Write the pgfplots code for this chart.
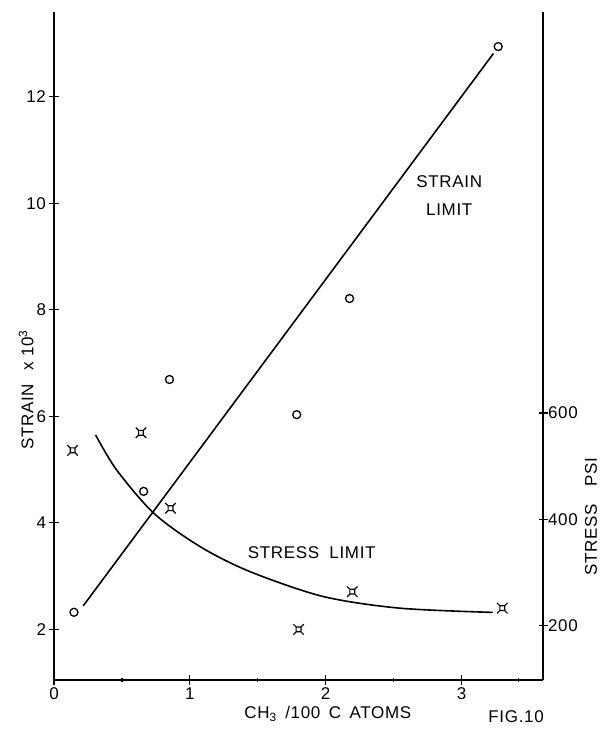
\documentclass[border=0pt]{standalone}
\usepackage{fontspec}
\setmainfont{Liberation Sans}[LetterSpace=4]
\usepackage{pgfplots}
\pgfplotsset{compat=1.18}
\pgfdeclareplotmark{cur}{%
  \pgfpathrectangle{\pgfpoint{-0.6\pgfplotmarksize}{-0.6\pgfplotmarksize}}{\pgfpoint{1.2\pgfplotmarksize}{1.2\pgfplotmarksize}}%
  \pgfpathmoveto{\pgfpoint{0.6\pgfplotmarksize}{0.6\pgfplotmarksize}}\pgfpathlineto{\pgfpoint{1.3\pgfplotmarksize}{1.3\pgfplotmarksize}}%
  \pgfpathmoveto{\pgfpoint{-0.6\pgfplotmarksize}{0.6\pgfplotmarksize}}\pgfpathlineto{\pgfpoint{-1.3\pgfplotmarksize}{1.3\pgfplotmarksize}}%
  \pgfpathmoveto{\pgfpoint{0.6\pgfplotmarksize}{-0.6\pgfplotmarksize}}\pgfpathlineto{\pgfpoint{1.3\pgfplotmarksize}{-1.3\pgfplotmarksize}}%
  \pgfpathmoveto{\pgfpoint{-0.6\pgfplotmarksize}{-0.6\pgfplotmarksize}}\pgfpathlineto{\pgfpoint{-1.3\pgfplotmarksize}{-1.3\pgfplotmarksize}}%
  \pgfusepathqstroke}
\newcommand{\lf}{\fontsize{17}{20}\selectfont}
\pgfplotsset{
  common/.style={
    at={(54pt,50pt)}, anchor=south west, scale only axis,
    width=489pt, height=668pt, xmin=0, xmax=3.6,
    tick align=inside, major tick length=9pt, minor tick length=4pt,
    every tick/.style={black, line width=1.2pt},
    tick label style={font=\lf},
    /pgf/number format/assume math mode=true,
    clip=false,
  }
}
\begin{document}
\begin{tikzpicture}
\useasboundingbox (0,0) rectangle (600pt,730pt);
\begin{axis}[common,
  ymin=1.049, ymax=13.589,
  axis x line=bottom, axis y line=left,
  axis line style={-, line width=1.2pt},
  x axis line style={-}, y axis line style={-},
  xtick={0,1,2,3}, minor xtick={0.5,1.5,2.5,3.42},
  ytick={2,4,6,8,10,12},
  xticklabel style={inner sep=1pt, yshift=-2pt},
]
\addplot[black, line width=1.6pt] coordinates {(0.215,2.44) (3.235,12.81)};
\addplot[only marks, mark=o, mark size=4pt, mark options={line width=1.3pt}] coordinates {
  (0.147,2.32) (0.66,4.59) (0.85,6.69) (1.787,6.03) (2.176,8.21) (3.27,12.94)};
\node[font=\lf] at (axis cs:2.91,10.41) {STRAIN};
\node[font=\lf] at (axis cs:2.91,9.87) {LIMIT};
\node[font=\lf] at (axis cs:1.897,3.44) {STRESS\hspace{0.6em}LIMIT};
\node[font=\lf] at (axis description cs:0.945,-0.0554) {FIG.10};
\node[font=\lf, inner sep=1pt] at (axis description cs:0.560,-0.0509) {CH\textsubscript{3}\hspace{0.5em}/100\hspace{0.5em}C\hspace{0.5em}ATOMS};
\node[font=\lf, rotate=90] at (axis description cs:-0.057,0.434) {STRAIN\hspace{0.8em}x\hspace{0.3em}10\textsuperscript{3}};
\end{axis}
\begin{axis}[common,
  ymin=97.8, ymax=1354.7,
  axis x line=none, axis y line=right,
  axis line style={-, line width=1.2pt},
  y axis line style={-},
  ytick={200,400,600},
  yticklabel style={xshift=-3pt},
]
\addplot[black, line width=1.6pt, smooth] coordinates {
  (0.306,559) (0.461,493) (0.737,411) (1.074,349) (1.44,302) (1.98,255) (2.544,233) (3.23,225)};
\addplot[only marks, mark=cur, mark size=4pt, mark options={line width=1.2pt}] coordinates {
  (0.137,530) (0.64,563) (0.858,421) (1.80,193) (2.196,264) (3.30,233)};
\node[font=\lf, rotate=90] at (axis description cs:1.098,0.2445) {STRESS\hspace{1em}PSI};
\end{axis}
\end{tikzpicture}
\end{document}
